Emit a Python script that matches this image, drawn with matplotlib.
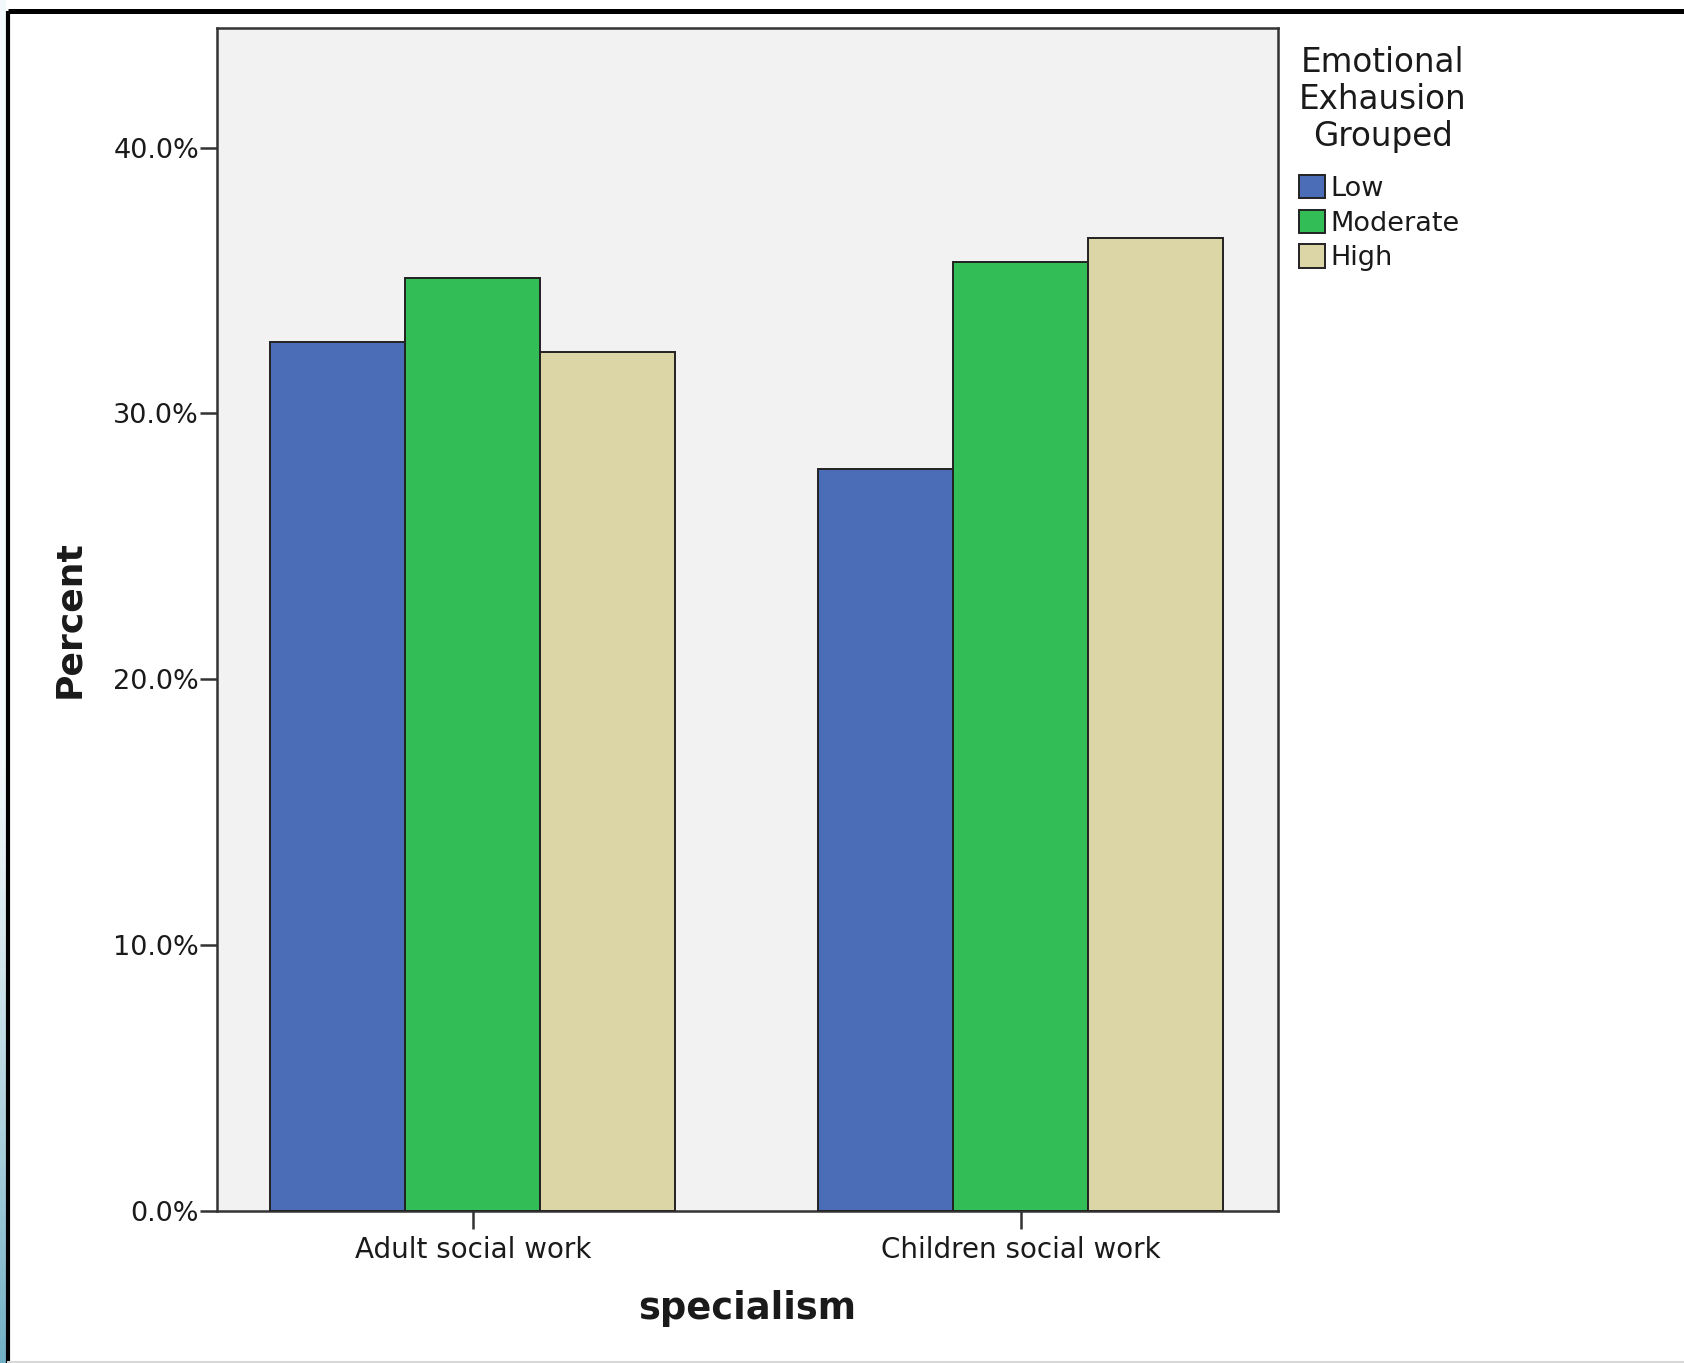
import matplotlib.pyplot as plt
import numpy as np
from matplotlib.colors import LinearSegmentedColormap
from matplotlib.lines import Line2D
from matplotlib.ticker import PercentFormatter

categories = ["Adult social work", "Children social work"]
groups = ["Low", "Moderate", "High"]
low = [32.7, 27.9]
moderate = [35.1, 35.7]
high = [32.3, 36.6]

colors = {"Low": "#4b6cb7", "Moderate": "#33bd57", "High": "#dcd5a6"}
text_color = "#1a1a1a"
edge_color = "#222222"

plt.rcParams["font.family"] = ["DejaVu Sans"]

W, H = 1684, 1363
fig = plt.figure(figsize=(W / 100, H / 100), dpi=100)
fig.patch.set_facecolor("white")

# outer window frame
fig.add_artist(Line2D([8 / W, 1.0], [1 - 11 / H, 1 - 11 / H], transform=fig.transFigure,
                      color="black", linewidth=3.6, solid_capstyle="butt"))
fig.add_artist(Line2D([8 / W, 8 / W], [0, 1 - 11 / H], transform=fig.transFigure,
                      color="black", linewidth=3.0, solid_capstyle="butt"))
fig.add_artist(Line2D([8 / W, 1.0], [1.5 / H, 1.5 / H], transform=fig.transFigure,
                      color="#d8d8d8", linewidth=1.5))
strip = fig.add_axes([0, 0, 6 / W, 1])
ramp = np.clip(np.linspace(1, 0, 300) * 2.2 - 1.2, 0, 1) ** 1.3
strip.imshow(ramp.reshape(-1, 1), aspect="auto",
             cmap=LinearSegmentedColormap.from_list("edge", ["#f3f9fb", "#72b0c5"]),
             vmin=0, vmax=1, extent=[0, 1, 0, 1], origin="lower")
strip.set_axis_off()

ax = fig.add_axes([217 / W, 152 / H, 1061 / W, 1183 / H])
ax.set_facecolor("#f2f2f2")

x = np.arange(len(categories))
width = 0.2465
series = {"Low": low, "Moderate": moderate, "High": high}
for i, name in enumerate(groups):
    ax.bar(x + (i - 1) * width, series[name], width, color=colors[name],
           edgecolor=edge_color, linewidth=1.4, label=name, zorder=3)

ax.set_xlim(-0.467, 1.47)
ax.set_ylim(0, 44.5)
ax.set_yticks([0, 10, 20, 30, 40])
ax.yaxis.set_major_formatter(PercentFormatter(xmax=100, decimals=1))
ax.set_xticks(x)
ax.set_xticklabels(categories)

for side in ["left", "right", "top", "bottom"]:
    ax.spines[side].set_color("#333333")
    ax.spines[side].set_linewidth(1.8)

ax.tick_params(axis="y", length=12, width=1.8, color="#333333", pad=1,
               labelsize=19.5, labelcolor=text_color)
ax.tick_params(axis="x", length=13, width=1.8, color="#333333", pad=5,
               labelsize=20, labelcolor=text_color)

ax.set_xlabel("specialism", fontsize=26.5, fontweight="bold", color=text_color)
ax.set_ylabel("Percent", fontsize=26, fontweight="bold", color=text_color)
ax.xaxis.set_label_coords(0.5, -0.082)
ax.xaxis.label.set_va("center")
ax.yaxis.set_label_coords(-0.1395, 0.5)
ax.yaxis.label.set_va("center")

leg = fig.legend(loc="upper left", bbox_to_anchor=(1299 / W, 1 - 46 / H),
                 title="Emotional\nExhausion\nGrouped", frameon=False,
                 fontsize=19.5, title_fontsize=23.5, handlelength=0.95,
                 handleheight=0.95, handletextpad=0.2, labelspacing=0.28,
                 borderaxespad=0, borderpad=0, alignment="left")
leg.get_title().set_linespacing(1.15)
leg.get_title().set_multialignment("center")
leg.get_title().set_color(text_color)
leg._legend_box.sep = 16
for t in leg.get_texts():
    t.set_color(text_color)

fig.savefig("out.png", dpi=100, facecolor=fig.get_facecolor())
